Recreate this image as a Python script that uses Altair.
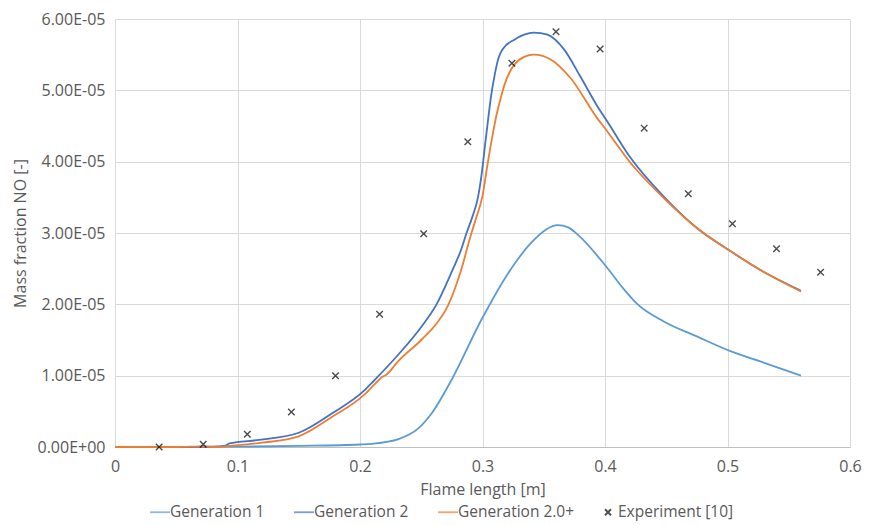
import altair as alt
import pandas as pd

# ---- data (y in units of 1e-5) ----
gen1_x = [0.0, 0.05, 0.10, 0.15, 0.20, 0.21, 0.2314, 0.2476, 0.2584, 0.2747, 0.299, 0.3207,
          0.3396, 0.352, 0.3613, 0.370, 0.3775, 0.4019, 0.415, 0.426, 0.448, 0.475, 0.503, 0.53, 0.56]
gen1_y = [0.0, 0.0, 0.005, 0.015, 0.035, 0.045, 0.11, 0.26, 0.47, 0.94, 1.78, 2.43,
          2.86, 3.05, 3.11, 3.08, 2.98, 2.51, 2.22, 2.01, 1.76, 1.55, 1.34, 1.18, 1.0]

gen2_x = [0.0, 0.05, 0.08, 0.09, 0.0934, 0.1177, 0.15, 0.177, 0.204, 0.2097, 0.231, 0.2503,
          0.2625, 0.276, 0.282, 0.287, 0.292, 0.2963, 0.2995, 0.302, 0.3045, 0.307, 0.31,
          0.313, 0.3166, 0.326, 0.334, 0.342, 0.353, 0.3667, 0.38, 0.394, 0.402, 0.421,
          0.448, 0.475, 0.502, 0.529, 0.56]
gen2_y = [0.0, 0.0, 0.005, 0.02, 0.05, 0.10, 0.20, 0.47, 0.80, 0.90, 1.29, 1.69,
          2.0, 2.5, 2.74, 3.0, 3.24, 3.5, 3.85, 4.22, 4.58, 4.92, 5.22,
          5.45, 5.58, 5.71, 5.78, 5.81, 5.78, 5.57, 5.19, 4.77, 4.56, 4.05,
          3.51, 3.07, 2.75, 2.46, 2.19]

gen2p_x = [0.0, 0.05, 0.072, 0.08, 0.096, 0.12, 0.15, 0.177, 0.204, 0.213, 0.218, 0.222,
           0.231, 0.25, 0.262, 0.272, 0.282, 0.291, 0.295, 0.30, 0.304, 0.308, 0.311, 0.315,
           0.318, 0.322, 0.326, 0.334, 0.342, 0.356, 0.372, 0.394, 0.399, 0.421, 0.426,
           0.448, 0.475, 0.502, 0.529, 0.56]
gen2p_y = [0.0, 0.0, 0.01, 0.0, 0.02, 0.06, 0.15, 0.42, 0.74, 0.90, 0.98, 1.02,
           1.20, 1.50, 1.72, 1.99, 2.45, 3.0, 3.22, 3.52, 3.95, 4.35, 4.62, 4.9,
           5.08, 5.25, 5.36, 5.47, 5.50, 5.43, 5.17, 4.60, 4.49, 3.98, 3.88,
           3.49, 3.07, 2.75, 2.46, 2.18]

exp_x = [0.036, 0.072, 0.108, 0.144, 0.18, 0.216, 0.252, 0.288, 0.324, 0.36, 0.396,
         0.432, 0.468, 0.504, 0.54, 0.576]
exp_y = [0.0, 0.04, 0.18, 0.49, 1.0, 1.86, 2.99, 4.28, 5.38, 5.82, 5.58,
         4.47, 3.55, 3.13, 2.78, 2.45]

names = ["Generation 1", "Generation 2", "Generation 2.0+", "Experiment [10]"]
colors = ["#5B9BD5", "#4472C4", "#ED7D31", "#000000"]
shapes = ["M-1.5,0L1.5,0", "M-1.5,0L1.5,0", "M-1.5,0L1.5,0",
          "M-0.45,-0.45L0.45,0.45M-0.45,0.45L0.45,-0.45"]

rows = []
for nm, xs, ys in [(names[0], gen1_x, gen1_y), (names[1], gen2_x, gen2_y), (names[2], gen2p_x, gen2p_y)]:
    for i, (a, b) in enumerate(zip(xs, ys)):
        rows.append({"series": nm, "x": a, "y": b * 1e-5, "order": i})
lines_df = pd.DataFrame(rows)
exp_df = pd.DataFrame({"series": names[3], "x": exp_x, "y": [v * 1e-5 for v in exp_y]})

FONT = "Open Sans"
TXT = "#595959"
FS = 16

legend = alt.Legend(title=None, orient="none", direction="horizontal", legendX=37, legendY=485,
                    symbolSize=178, symbolStrokeWidth=1.8, labelFontSize=15.5, labelFont=FONT,
                    labelColor=TXT, columnPadding=25, labelOffset=2, symbolType="stroke")

color = alt.Color("series:N", scale=alt.Scale(domain=names, range=colors), legend=legend)
shape = alt.Shape("series:N", scale=alt.Scale(domain=names, range=shapes), legend=legend)

xenc = alt.X("x:Q", scale=alt.Scale(domain=[0, 0.6], nice=False),
             axis=alt.Axis(title="Flame length [m]", values=[0, 0.1, 0.2, 0.3, 0.4, 0.5, 0.6],
                           labelFlush=False,
                           labelExpr="datum.value == 0 ? '0' : format(datum.value, '.1f')"))
yenc = alt.Y("y:Q", scale=alt.Scale(domain=[0, 6e-5], nice=False),
             axis=alt.Axis(title="Mass fraction NO [-]",
                           values=[0, 1e-5, 2e-5, 3e-5, 4e-5, 5e-5, 6e-5],
                           labelExpr="datum.value == 0 ? '0.00E+00' : format(datum.value*100000, '.2f') + 'E-05'"))

lines = alt.Chart(lines_df).mark_line(interpolate="monotone", strokeWidth=1.8).encode(
    x=xenc, y=yenc, color=color, order="order:Q")
points = alt.Chart(exp_df).mark_point(filled=False, size=210, strokeWidth=1.4).encode(
    x=xenc, y=yenc, color=color, shape=shape)

chart = alt.layer(lines, points).properties(
    width=735, height=428,
    padding={"left": 107, "top": 11, "right": 12, "bottom": 77},
    autosize=alt.AutoSizeParams(type="none"),
    background="white",
).configure_view(stroke=None).configure_axis(
    grid=True, gridColor="#d9d9d9", gridWidth=1, ticks=False,
    labelFont=FONT, labelFontSize=FS, labelColor=TXT,
    titleFont=FONT, titleFontSize=FS, titleColor=TXT, titleFontWeight="normal",
).configure_axisX(
    domainColor="#bfbfbf", labelPadding=11, titlePadding=7,
).configure_axisY(
    domain=False, labelPadding=10, titlePadding=9,
)

chart.save("out.html", embed_options={"renderer": "svg", "actions": False})
